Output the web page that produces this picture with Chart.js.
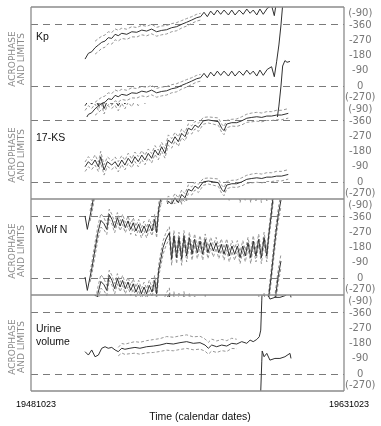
<!DOCTYPE html>
<html><head><meta charset="utf-8">
<script src="https://cdn.jsdelivr.net/npm/chart.js@4.4.1/dist/chart.umd.min.js"></script>
<style>html,body{margin:0;padding:0;background:#fff;}canvas{display:block;}</style>
</head><body>
<canvas id="c" width="381" height="426"></canvas>
<script>
// ---- text ----
const panelLabelLines = [['Kp'], ['17-KS'], ['Wolf N'], ['Urine', 'volume']];
const sideTitleLines = ['ACROPHASE', 'AND LIMITS'];
const xTitle = 'Time (calendar dates)';
const xTickValues = [0, 15];
const xTickLabels = ['19481023', '19631023'];
// wrap-indicator labels "(-90)" and "(-270)" sit just inside the panel edges
const yTickValues = [-428, -360, -270, -180, -90, 0, 68];
const yTickLabels = ['(-90)', '-360', '-270', '-180', '-90', '0', '(-270)'];

// ---- data: time in years since 1948-10-23, acrophase in degrees (unwrapped), half-width of limits ----
const kpTime = [2.59,2.75,2.91,3.07,3.23,3.39,3.55,3.70,3.87,4.03,4.18,4.35,4.59,4.83,5.07,5.31,5.54,5.78,6.02,6.26,6.50,6.74,6.98,7.22,7.46,7.70,7.94,8.13,8.29,8.45,8.61,8.77,8.93,9.09,9.25,9.46,9.62,9.78,9.98,10.17,10.34,10.50,10.65,10.82,10.97,11.13,11.32,11.53,11.66,11.77,11.88,11.98,12.06,12.17,12.27,12.41];
const kpPhase = [-159,-193,-202,-226,-242,-258,-265,-285,-281,-305,-297,-311,-305,-320,-317,-330,-324,-336,-320,-328,-332,-344,-350,-364,-376,-389,-403,-409,-435,-409,-442,-419,-448,-423,-448,-419,-448,-419,-448,-423,-454,-429,-448,-419,-454,-423,-458,-474,-415,-503,-602,-720,-838,-870,-860,-865];
const kpHalfWidth = [null,null,null,38,38,36,36,35,34,32,32,30,30,30,28,28,28,28,26,26,25,24,24,22,22,20,20,20];

const ksTime = [2.59,2.75,2.91,3.07,3.23,3.34,3.50,3.66,3.87,4.03,4.18,4.35,4.50,4.66,4.83,4.98,5.14,5.31,5.46,5.62,5.78,5.94,6.10,6.26,6.42,6.58,6.74,6.90,7.06,7.22,7.38,7.54,7.70,7.86,8.02,8.26,8.50,8.74,8.98,9.14,9.25,9.38,9.62,9.86,10.10,10.34,10.58,10.82,11.06,11.30,11.53,11.77,12.01,12.33];
const ksPhase = [-90,-120,-100,-130,-90,-149,-71,-120,-100,-120,-90,-130,-100,-140,-110,-149,-120,-159,-130,-169,-140,-189,-159,-208,-169,-248,-228,-267,-238,-287,-267,-317,-307,-336,-322,-361,-366,-361,-356,-317,-303,-342,-350,-350,-361,-376,-381,-385,-381,-389,-389,-395,-395,-405];
const ksHalfWidth = [28,30,26,30,28,32,30,28,26,28,30,26,28,30,26,28,30,26,28,26,28,26,28,26,28,30,28,26,28,26,24,26,24,22,24,20,18,20,22,24,24,22,20,22,24,24,26,26,26,26,26,28,28,28];

const wolfTime = [2.59,2.70,2.83,2.92,3.07,3.21,3.35,3.50,3.63,3.75,3.88,4.01,4.14,4.27,4.39,4.52,4.65,4.78,4.90,5.03,5.16,5.29,5.42,5.54,5.67,5.80,5.93,6.02,6.12,6.22,6.33,6.47,6.63,6.74,6.85,6.98,7.09,7.22,7.33,7.46,7.59,7.72,7.84,7.97,8.10,8.23,8.35,8.48,8.61,8.74,8.87,9.00,9.12,9.25,9.38,9.50,9.63,9.76,9.89,10.02,10.15,10.27,10.40,10.53,10.65,10.78,10.91,11.04,11.17,11.30,11.39,11.50,11.62,11.74,11.86,11.98];
const wolfPhase = [-366,-287,-366,-420,-530,-630,-700,-680,-647,-736,-706,-657,-716,-667,-706,-657,-697,-647,-686,-637,-677,-627,-667,-627,-677,-637,-706,-627,-765,-830,-900,-950,-987,-830,-968,-840,-958,-830,-968,-850,-958,-860,-948,-869,-938,-860,-948,-869,-928,-879,-928,-869,-919,-860,-919,-850,-909,-860,-909,-840,-909,-850,-928,-840,-938,-850,-948,-840,-958,-850,-968,-1080,-1220,-1350,-1460,-1540];
const wolfHalfWidth = [null,null,30,35,40,40,40,35,30,30,28,30,30,28,30,30,28,30,30,28,30,30,28,30,30,28,30,30,35,40,40,38,35,35,32,35,32,35,32,35,32,35,32,35,32,35,32,35,32,35,32,35,32,35,32,35,32,35,32,35,32,35,32,35,32,35,32,35,32,35,32,35,40,40,40,40];

const urineTime = [2.59,2.75,2.91,3.07,3.23,3.39,3.55,3.70,3.87,4.03,4.18,4.35,4.50,4.74,4.98,5.22,5.54,5.86,6.18,6.50,6.82,7.14,7.46,7.78,8.10,8.34,8.50,8.66,8.90,9.14,9.38,9.62,9.86,10.10,10.34,10.50,10.65,10.82,10.94,11.01,11.06,11.08,11.17,11.30,11.45,11.69,11.93,12.17,12.41,12.46];
const urinePhase = [-132,-112,-142,-102,-112,-152,-161,-152,-157,-142,-132,-152,-146,-152,-157,-152,-161,-165,-171,-181,-177,-185,-191,-181,-185,-171,-152,-171,-161,-171,-165,-181,-177,-191,-181,-200,-191,-204,-220,-259,-436,-496,-462,-482,-442,-452,-452,-462,-482,-452];
const urineHalfWidth = [null,null,null,null,null,null,null,null,null,null,25,28,30,32,34,35,36,38,38,40,40,40,40,38,38,36,35,35,34,33,32,30,28];

const panels = [
  {time: kpTime, phase: kpPhase, half: kpHalfWidth, overflow: 14},
  {time: ksTime, phase: ksPhase, half: ksHalfWidth, overflow: 5},
  {time: wolfTime, phase: wolfPhase, half: wolfHalfWidth, overflow: 2},
  {time: urineTime, phase: urinePhase, half: urineHalfWidth, overflow: 0}
];

const Y_MIN = -466, Y_MAX = 100;

// build datasets: double-plotted acrophase (and limits) shifted by multiples of 360
const datasets = [];
panels.forEach((p, i) => {
  for (let k = -2; k <= 6; k++) {
    const shift = k * 360;
    const series = [
      {vals: p.phase.map(v => v + shift), lim: false},
      {vals: p.phase.map((v, j) => p.half[j] == null ? null : v - p.half[j] + shift), lim: true},
      {vals: p.phase.map((v, j) => p.half[j] == null ? null : v + p.half[j] + shift), lim: true}
    ];
    series.forEach(s => {
      const nn = s.vals.filter(v => v != null);
      if (!nn.length) return;
      const mn = Math.min(...nn), mx = Math.max(...nn);
      if (mx < Y_MIN || mn > Y_MAX + 80) return;
      datasets.push({
        yAxisID: 'y' + i,
        panel: i,
        data: p.time.map((t, j) => ({x: t, y: s.vals[j]})),
        borderColor: s.lim ? '#969696' : '#303030',
        borderWidth: 1,
        borderDash: s.lim ? [3, 2] : [],
        pointRadius: 0,
        tension: 0,
        fill: false,
        spanGaps: false,
        clip: false
      });
    });
  }
});

const gridColor = ctx => (ctx.tick && (ctx.tick.value === -360 || ctx.tick.value === 0)) ? '#7a7a7a' : 'rgba(0,0,0,0)';

const scales = {
  x: {
    type: 'linear', position: 'bottom', min: 0, max: 15,
    grid: {display: false}, border: {display: false},
    afterBuildTicks: s => { s.ticks = xTickValues.map(v => ({value: v})); },
    afterFit: s => { s.height = 35; },
    ticks: {
      autoSkip: false, maxRotation: 0, labelOffset: 5, padding: 0, color: '#000',
      font: {family: 'Liberation Sans, Arial, sans-serif', size: 9},
      callback: v => xTickLabels[xTickValues.indexOf(v)]
    }
  }
};
for (let i = 0; i < 4; i++) {
  scales['y' + i] = {
    type: 'linear', position: 'right', stack: 'panels', stackWeight: 1, weight: i + 1,
    reverse: true, min: Y_MIN, max: Y_MAX, offset: false,
    afterBuildTicks: s => { s.ticks = yTickValues.map(v => ({value: v})); },
    afterFit: s => { s.width = 37; },
    grid: {drawTicks: false, color: gridColor, lineWidth: 1, borderDash: [7, 5]},
    border: {display: false, dash: [7, 5]},
    ticks: {
      autoSkip: false, crossAlign: 'center', padding: 1, color: '#777',
      font: {family: 'DejaVu Sans', size: 10},
      callback: v => yTickLabels[yTickValues.indexOf(v)]
    }
  };
}

const clipPlugin = {
  id: 'panelClip',
  beforeDatasetDraw(chart, args) {
    const ds = chart.data.datasets[args.index];
    const ys = args.meta.yScale;
    const a = chart.chartArea;
    const ctx = chart.ctx;
    ctx.save();
    ctx.beginPath();
    ctx.rect(a.left, ys.top, a.right - a.left, ys.bottom - ys.top + panels[ds.panel].overflow);
    ctx.clip();
  },
  afterDatasetDraw(chart) { chart.ctx.restore(); }
};

const decorPlugin = {
  id: 'decor',
  afterDraw(chart) {
    const ctx = chart.ctx;
    const a = chart.chartArea;
    ctx.save();
    // frame
    ctx.strokeStyle = '#8c8c8c';
    ctx.lineWidth = 1.3;
    ctx.beginPath();
    ctx.moveTo(a.left, a.top); ctx.lineTo(a.right, a.top);
    ctx.moveTo(a.left, a.top); ctx.lineTo(a.left, a.bottom);
    ctx.moveTo(a.right, a.top); ctx.lineTo(a.right, a.bottom);
    ctx.moveTo(a.left, a.bottom); ctx.lineTo(a.right, a.bottom);
    [1, 2].forEach(i => {
      const b = chart.scales['y' + i].bottom;
      ctx.moveTo(a.left, b); ctx.lineTo(a.right, b);
    });
    ctx.stroke();
    // panel labels and side titles
    const labelOffsets = [30, 35, 31, 34];
    for (let i = 0; i < 4; i++) {
      const ys = chart.scales['y' + i];
      ctx.fillStyle = '#111';
      ctx.font = '10.5px "Liberation Sans", Arial, sans-serif';
      ctx.textAlign = 'left';
      ctx.textBaseline = 'middle';
      panelLabelLines[i].forEach((t, j) => ctx.fillText(t, 36, ys.top + labelOffsets[i] + j * 13));
      const cy = (ys.top + ys.bottom) / 2 + 4;
      ctx.fillStyle = '#8a8a8a';
      ctx.font = '9px "DejaVu Sans", sans-serif';
      ctx.textAlign = 'center';
      [12.5, 22].forEach((x, j) => {
        ctx.save();
        ctx.translate(x, cy);
        ctx.rotate(-Math.PI / 2);
        ctx.fillText(sideTitleLines[j], 0, 0);
        ctx.restore();
      });
    }
    // x title
    ctx.fillStyle = '#111';
    ctx.font = '10.5px "Liberation Sans", Arial, sans-serif';
    ctx.textAlign = 'center';
    ctx.textBaseline = 'middle';
    ctx.fillText(xTitle, 200, 417);
    ctx.restore();
  }
};

new Chart(document.getElementById('c'), {
  type: 'line',
  data: {datasets},
  options: {
    responsive: false, animation: false, devicePixelRatio: 1, events: [],
    layout: {padding: {left: 31, top: 7, right: 0, bottom: 0}},
    plugins: {legend: {display: false}, tooltip: {enabled: false}},
    scales
  },
  plugins: [clipPlugin, decorPlugin]
});
</script>
</body></html>
